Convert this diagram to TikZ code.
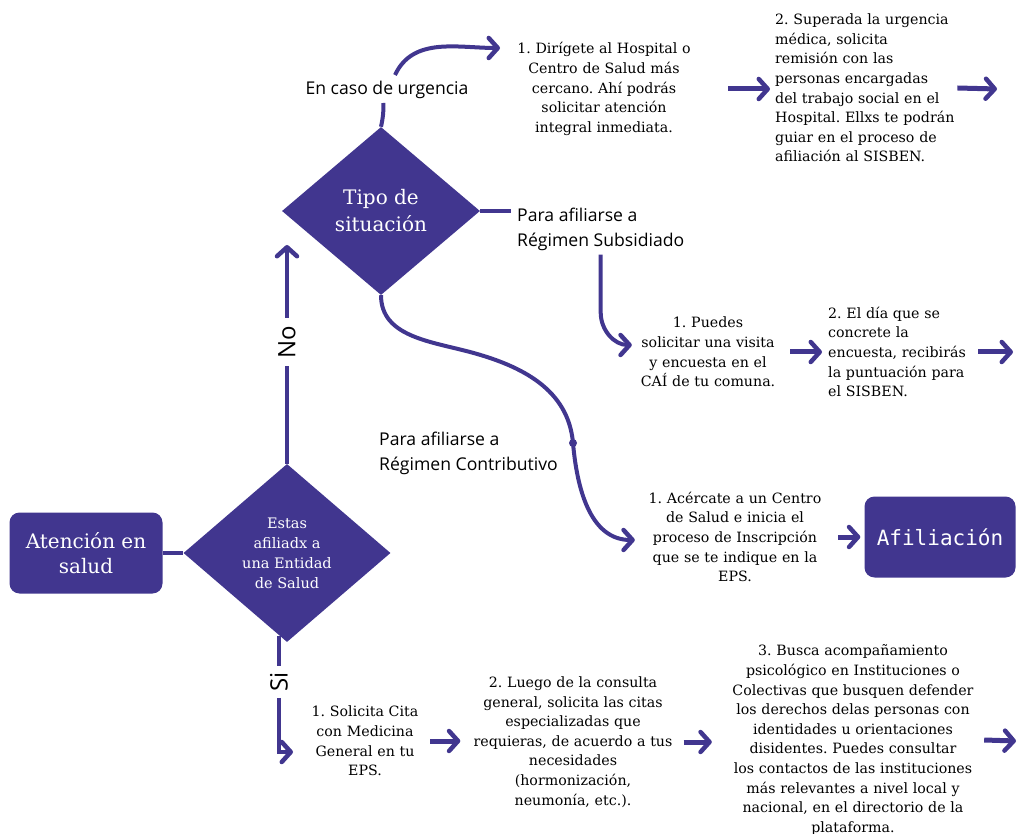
\documentclass[tikz,border=0pt]{standalone}
\usepackage{fontspec}
\setmainfont{DejaVu Serif}
\setsansfont{Open Sans}
\setmonofont{DejaVu Sans Mono}
\usetikzlibrary{shapes.geometric,arrows.meta}
\definecolor{morado}{HTML}{41368F}
\frenchspacing
\begin{document}
\begin{tikzpicture}[x=1pt,y=1pt,
  paso/.style={align=center,inner sep=0pt,font=\fontsize{14.2}{19.6}\selectfont},
  etiq/.style={align=left,inner sep=0pt,font=\sffamily\fontsize{17.6}{25}\selectfont},
  caja/.style={fill=morado,rounded corners=10pt,text=white,minimum height=81pt,inner sep=0pt,align=center},
  rombo/.style={diamond,fill=morado,text=white,inner sep=0pt,align=center},
  linea/.style={draw=morado,line width=4pt},
  flecha/.style={linea,-{Straight Barb[length=9pt,width=20pt,line width=4.5pt,round]}}]
\useasboundingbox (0,0) rectangle (1021,-834);
\node[caja,minimum width=153pt,font=\fontsize{20}{25}\selectfont] (aten) at (86,-553) {Atención en\\salud};
\node[rombo,minimum width=207pt,minimum height=178pt,aspect=1.16,font=\fontsize{14.5}{20}\selectfont] (afil) at (287,-553) {Estas\\afiliadx a\\una Entidad\\de Salud};
\node[rombo,minimum width=198pt,minimum height=168pt,aspect=1.18,font=\fontsize{20}{27}\selectfont] (tipo) at (381,-211) {Tipo de\\situación};
\node[caja,minimum width=151pt,font=\ttfamily\fontsize{21}{25}\selectfont] (fin) at (940,-537) {Afiliación};
\node[etiq,rotate=90,font=\sffamily\fontsize{24}{24}\selectfont] (no) at (287,-342) {No};
\node[etiq,rotate=90,font=\sffamily\fontsize{24}{24}\selectfont] (si) at (279,-682) {Si};
\node[etiq] (urg) at (387,-90) {En caso de urgencia};
\node[etiq,anchor=west] (sub) at (517,-229) {Para afiliarse a\\Régimen Subsidiado};
\node[etiq,anchor=west] (con) at (379,-453) {Para afiliarse a\\Régimen Contributivo};
\node[paso,text width=184pt] (t1) at (604,-89) {1. Dirígete al Hospital o\\Centro de Salud más\\cercano. Ahí podrás\\solicitar atención\\integral inmediata.};
\node[paso,text width=182pt,align=left,anchor=west] (t2) at (775,-88) {2. Superada la urgencia\\médica, solicita\\remisión con las\\personas encargadas\\del trabajo social en el\\Hospital. Ellxs te podrán\\guiar en el proceso de\\afiliación al SISBEN.};
\node[paso,text width=142pt] (p1) at (708,-352) {1. Puedes\\solicitar una visita\\y encuesta en el\\CAÍ de tu comuna.};
\node[paso,text width=150pt,align=left,anchor=west] (p2) at (828,-352) {2. El día que se\\concrete la\\encuesta, recibirás\\la puntuación para\\el SISBEN.};
\node[paso,text width=184pt] (p3) at (735,-537) {1. Acércate a un Centro\\de Salud e inicia el\\proceso de Inscripción\\que se te indique en la\\EPS.};
\node[paso,text width=112pt] (s1) at (365,-741) {1. Solicita Cita\\con Medicina\\General en tu\\EPS.};
\node[paso,text width=215pt] (s2) at (573,-742) {2. Luego de la consulta\\general, solicita las citas\\especializadas que\\requieras, de acuerdo a tus\\necesidades\\(hormonización,\\neumonía, etc.).};
\node[paso,text width=262pt] (s3) at (853,-740) {3. Busca acompañamiento\\psicológico en Instituciones o\\Colectivas que busquen defender\\los derechos delas personas con\\identidades u orientaciones\\disidentes. Puedes consultar\\los contactos de las instituciones\\más relevantes a nivel local y\\nacional, en el directorio de la\\plataforma.};
\coordinate (e1) at (997,-89);
\coordinate (e2) at (1013,-352);
\coordinate (e3) at (1016,-741);
\coordinate (urgfin) at (500,-48);
\coordinate (sifin) at (293,-752);
\coordinate (curva) at (470,-352);
\coordinate (punto) at (573,-443);
\draw[linea] (aten) -- (afil);
\draw[linea,shorten >=8pt] (afil.north) -- (no.west);
\draw[flecha,shorten <=8pt,shorten >=34pt] (no.east) -- (no.east |- tipo.west);
\draw[linea,shorten >=6pt] ([yshift=6pt]afil.south -| si) -- (si.east);
\draw[flecha,shorten <=6pt] (si.west) |- (sifin);
\draw[linea,shorten >=4pt] (tipo.north) to[bend right=8] ([xshift=-4pt]urg.south);
\draw[flecha] ([xshift=8pt,yshift=6pt]urg.north) to[out=65,in=180] (urgfin);
\draw[linea,shorten >=6pt] (tipo.east) -- (tipo.east -| sub.west);
\draw[flecha,shorten <=4pt] (sub.south) -- ++(0,-62) to[out=-90,in=180] ([xshift=-5pt,yshift=7pt]p1.west);
\draw[flecha] (tipo.south) to[out=-90,in=165] (curva) to[out=-15,in=95] (punto) to[out=-85,in=180] ([xshift=-8pt,yshift=-3pt]p3.west);
\fill[morado] (punto) circle (4pt);
\foreach \a/\b/\i/\o in {t1/t2/32/5,p1/p2/11/6,p3/fin/11/4,s1/s2/9/5,s2/s3/3/10}
\draw[flecha,line width=5pt,shorten <=\i pt,shorten >=\o pt] (\a.east) -- (\a.east -| \b.west);
\foreach \a/\b in {t2/e1,p2/e2,s3/e3}
\draw[flecha,line width=5pt] (\a.east) -- (\b);
\end{tikzpicture}
\end{document}
